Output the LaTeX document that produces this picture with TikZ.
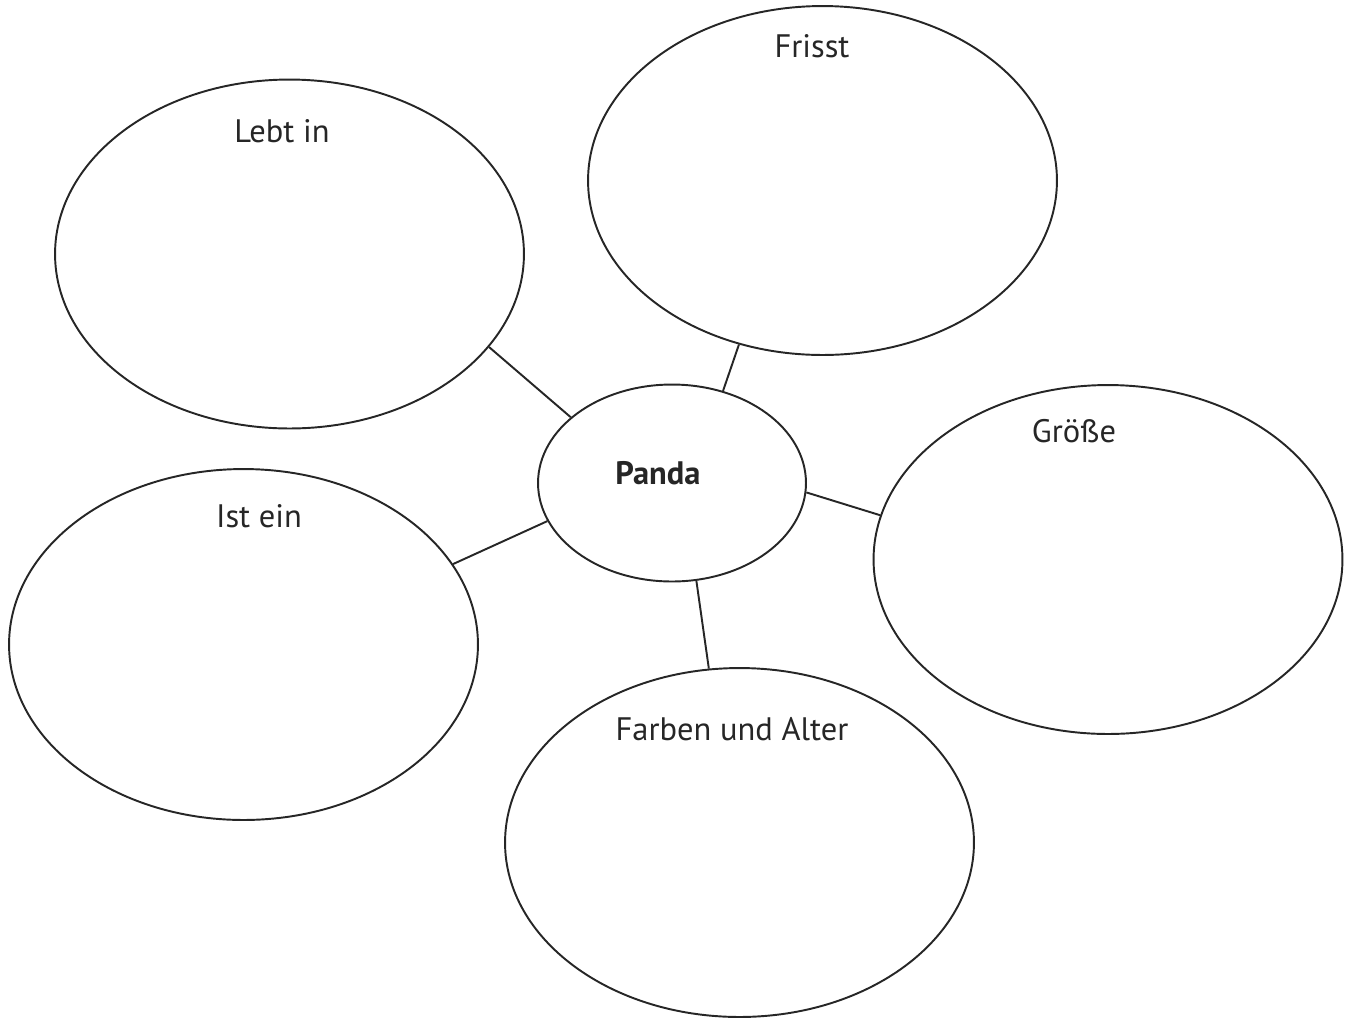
\documentclass[tikz,border=0pt]{standalone}
\usepackage{fontspec}
\setmainfont{PT Sans}
\usetikzlibrary{positioning}
\usetikzlibrary{shapes.geometric}
\tikzset{
  % bubbles around the centre
  bubble/.style={ellipse,draw=black!85,line width=1.1pt,inner sep=0pt,
    minimum width=9.38cm,minimum height=6.98cm},
  centre/.style={bubble,minimum width=5.36cm,minimum height=3.94cm},
  topic/.style={inner sep=0pt,text=black!85,font=\fontsize{18.5}{22}\selectfont},
  link/.style={draw=black!85,line width=1.1pt},
}

\begin{document}
\begin{tikzpicture}[x=0.02cm,y=-0.02cm]
  \useasboundingbox (0,0) rectangle (1349,1019);

  \node[centre] (panda) at (672,483) {};
  \node[bubble] (lebt) at (289.5,254) {};
  \node[bubble] (frisst) at (822.5,180.5) {};
  \node[bubble] (groesse) at (1108,559.5) {};
  \node[bubble,minimum height=7.02cm] (istein) at (243.5,644.5) {};
  \node[bubble] (farben) at (739.5,842.5) {};

  % texts
  \node[topic,font=\fontsize{18.5}{22}\selectfont\bfseries] (pandaT) at (658,473) {Panda};
  \node[topic] (lebtT) at (282,131) {Lebt in};
  \node[topic] (frisstT) at (812,46) {Frisst};
  \node[topic] (groesseT) at (1074,431) {Größe};
  \node[topic] (isteinT) at (259,516) {Ist ein};
  \node[topic] (farbenT) at (732,729) {Farben und Alter};

  \path[link]
  (lebt.-25.4) -- (panda.147)
  (frisst.-117.9) -- (panda.61.7)
  (groesse.169.2) -- (panda.-4.3)
  (istein.21.5) -- (panda.-163.9)
  (farben.100.3) -- (panda.-76.4)
  ;
\end{tikzpicture}
\end{document}
